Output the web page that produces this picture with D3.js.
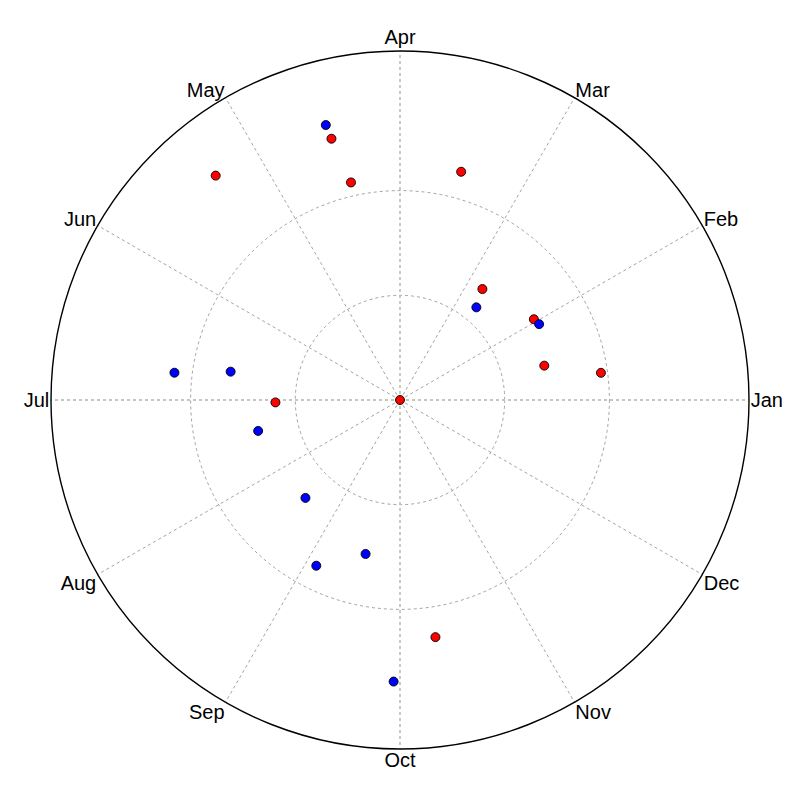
<!DOCTYPE html>
<html>
<head>
<meta charset="utf-8">
<script src="https://cdn.jsdelivr.net/npm/d3@7"></script>
<style>
	body { margin: 0; background: #fff; }
	svg { display: block; }
	text { font-family: "Liberation Sans", Arial, sans-serif; font-size: 20px; fill: #000; }
</style>
</head>
<body>
<svg width="800" height="800"></svg>
<script>
// month labels, counterclockwise from 0 degrees
const months = ['Jan', 'Feb', 'Mar', 'Apr', 'May', 'Jun', 'Jul', 'Aug', 'Sep', 'Oct', 'Nov', 'Dec'];
const rings = [0.3, 0.6];

// angle in degrees (counterclockwise from east), radius in [0, 1]
const redTheta = [0, 7.7, 13.4, 31.1, 53.4, 75.0, 102.7, 104.7, 129.4, 181.1, 278.5];
const redR = [0, 0.581, 0.425, 0.448, 0.396, 0.677, 0.639, 0.774, 0.832, 0.357, 0.687];

const blueTheta = [28.6, 50.5, 105.1, 173.1, 170.5, 192.3, 226.0, 243.2, 257.4, 268.7];
const blueR = [0.454, 0.344, 0.816, 0.651, 0.492, 0.416, 0.390, 0.532, 0.452, 0.807];

const svg = d3.select('svg'),
	cx = 400,
	cy = 400,
	radius = 349;

let r = d3.scaleLinear().domain([0, 1]).range([0, radius]);
let angle = d3.scaleLinear().domain([0, 360]).range([0, 2 * Math.PI]);

function px(t, v) { return cx + r(v) * Math.cos(angle(t)); }
function py(t, v) { return cy - r(v) * Math.sin(angle(t)); }

let grid = svg.append('g').attr('class', 'grid');

grid.selectAll('circle')
	.data(rings)
	.enter().append('circle')
	.attr('cx', cx)
	.attr('cy', cy)
	.attr('r', function (d) { return r(d); })
	.attr('fill', 'none')
	.attr('stroke', '#8c8c8c')
	.attr('stroke-width', 0.8)
	.attr('stroke-dasharray', '3,3');

let spokes = d3.range(12).map(function (i) { return i * 30; });

grid.selectAll('line')
	.data(spokes)
	.enter().append('line')
	.attr('x1', cx)
	.attr('y1', cy)
	.attr('x2', function (d) { return px(d, 1); })
	.attr('y2', function (d) { return py(d, 1); })
	.attr('stroke', function (d) { return d % 90 === 0 ? '#c4c4c4' : '#8c8c8c'; })
	.attr('stroke-width', function (d) { return d % 90 === 0 ? 1.8 : 0.8; })
	.attr('stroke-dasharray', '3,3');

svg.append('circle')
	.attr('cx', cx)
	.attr('cy', cy)
	.attr('r', radius)
	.attr('fill', 'none')
	.attr('stroke', '#000')
	.attr('stroke-width', 1.4);

// month labels: anchored just outside the rim, aligned away from the centre
const labelR = 1.005;

svg.append('g')
	.selectAll('text')
	.data(months)
	.enter().append('text')
	.attr('x', function (d, i) { return px(i * 30, labelR); })
	.attr('y', function (d, i) { return py(i * 30, labelR); })
	.attr('text-anchor', function (d, i) {
		let c = Math.cos(angle(i * 30));
		return Math.abs(c) < 0.01 ? 'middle' : (c > 0 ? 'start' : 'end');
	})
	.attr('dy', function (d, i) {
		let s = Math.sin(angle(i * 30));
		if (s > 0.99) return '-0.28em';
		if (s < -0.99) return '0.8em';
		if (Math.abs(s) < 0.01) return '0.36em';
		return s > 0 ? '0.05em' : '0.75em';
	})
	.text(function (d) { return d; });

function drawPoints(thetas, rs, color) {
	svg.append('g')
		.selectAll('circle')
		.data(thetas.map(function (t, i) { return {t: t, v: rs[i]}; }))
		.enter().append('circle')
		.attr('cx', function (d) { return px(d.t, d.v); })
		.attr('cy', function (d) { return py(d.t, d.v); })
		.attr('r', 4.5)
		.attr('fill', color)
		.attr('stroke', '#000')
		.attr('stroke-width', 0.9);
}

drawPoints(redTheta, redR, '#ff0000');
drawPoints(blueTheta, blueR, '#0000ff');
</script>
</body>
</html>
